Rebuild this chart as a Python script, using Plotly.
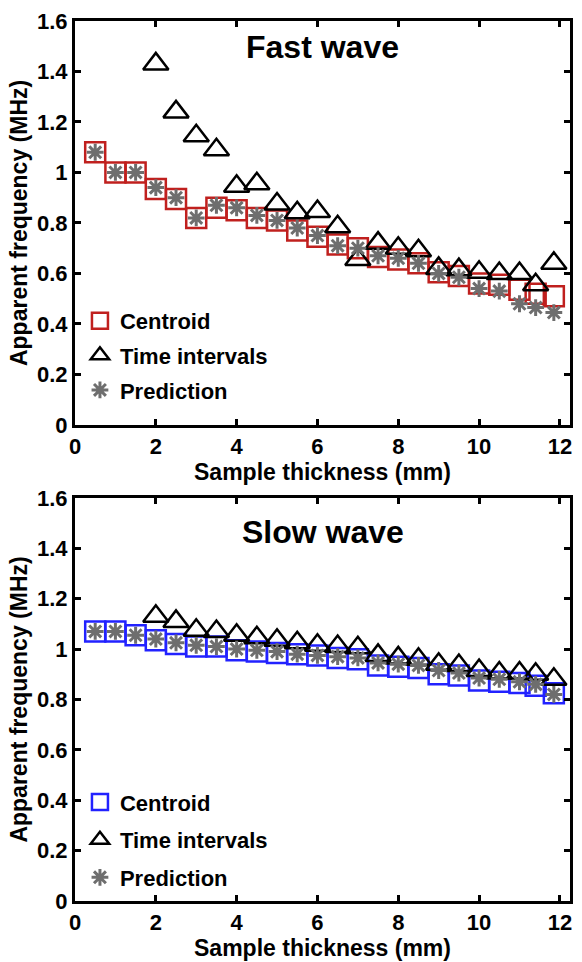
import plotly.graph_objects as go

# ---------------- data ----------------
thickness = [0.5, 1.0, 1.5, 2.0, 2.5, 3.0, 3.5, 4.0, 4.5, 5.0, 5.5, 6.0, 6.5, 7.0,
             7.5, 8.0, 8.5, 9.0, 9.5, 10.0, 10.5, 11.0, 11.4, 11.85]
thickness_ti = thickness[3:]

fast_centroid = [1.08, 1.0, 1.0, 0.935, 0.895, 0.82, 0.86, 0.85, 0.82, 0.81, 0.77, 0.745,
                 0.715, 0.70, 0.665, 0.655, 0.64, 0.605, 0.59, 0.56, 0.555, 0.535, 0.52, 0.51]
fast_time = [1.43, 1.24, 1.145, 1.09, 0.945, 0.955, 0.875, 0.84, 0.845, 0.785, 0.655,
             0.72, 0.70, 0.69, 0.62, 0.615, 0.605, 0.60, 0.60, 0.555, 0.64]
fast_pred = [1.08, 1.0, 1.0, 0.94, 0.90, 0.82, 0.87, 0.86, 0.83, 0.81, 0.78, 0.75,
             0.71, 0.70, 0.67, 0.66, 0.64, 0.60, 0.585, 0.54, 0.53, 0.48, 0.465, 0.445]

slow_centroid = [1.07, 1.07, 1.055, 1.035, 1.02, 1.01, 1.01, 0.995, 0.99, 0.985, 0.98, 0.975,
                 0.965, 0.96, 0.935, 0.93, 0.925, 0.90, 0.895, 0.875, 0.87, 0.865, 0.855, 0.825]
slow_time = [1.13, 1.11, 1.075, 1.07, 1.055, 1.045, 1.035, 1.025, 1.015, 1.01, 1.005,
             0.975, 0.965, 0.96, 0.94, 0.935, 0.915, 0.905, 0.905, 0.90, 0.88]
slow_pred = [1.07, 1.07, 1.055, 1.04, 1.025, 1.015, 1.01, 1.0, 0.995, 0.99, 0.98, 0.975,
             0.97, 0.965, 0.945, 0.94, 0.935, 0.915, 0.905, 0.885, 0.88, 0.87, 0.86, 0.82]

x_ticks = [0, 2, 4, 6, 8, 10, 12]
y_ticks = [0, 0.2, 0.4, 0.6, 0.8, 1.0, 1.2, 1.4, 1.6]
y_ticktext = ["0", "0.2", "0.4", "0.6", "0.8", "1", "1.2", "1.4", "1.6"]

legend_names = ["Centroid", "Time intervals", "Prediction"]
titles = ["Fast wave", "Slow wave"]
x_title = "Sample thickness (mm)"
y_title = "Apparent frequency (MHz)"

# ---------------- style ----------------
FONT = "Liberation Sans"
RED = "#c0201e"
BLUE = "#2222ff"
GREY = "#6e6e6e"

fig = go.Figure()

panels = [
    (fast_centroid, fast_time, fast_pred, RED, "x", "y", "legend"),
    (slow_centroid, slow_time, slow_pred, BLUE, "x2", "y2", "legend2"),
]
for cen, ti, pr, col, xa, ya, lg in panels:
    fig.add_trace(go.Scatter(
        x=thickness, y=cen, mode="markers", name=legend_names[0],
        marker=dict(symbol="square-open", size=20, color=col, line=dict(width=2.5, color=col)),
        xaxis=xa, yaxis=ya, legend=lg, legendgroup=lg + "a"))
    fig.add_trace(go.Scatter(
        x=thickness_ti, y=ti, mode="markers", name=legend_names[1],
        marker=dict(symbol="triangle-up-open", size=22, color="black", line=dict(width=2.5, color="black")),
        xaxis=xa, yaxis=ya, legend=lg, legendgroup=lg + "b"))
    fig.add_trace(go.Scatter(
        x=thickness, y=pr, mode="markers", name=legend_names[2],
        marker=dict(symbol="asterisk-open", size=14, color=GREY, line=dict(width=3, color=GREY)),
        xaxis=xa, yaxis=ya, legend=lg, legendgroup=lg + "c"))

axis_common = dict(
    showline=True, linewidth=3, linecolor="black", mirror="ticks",
    ticks="inside", ticklen=6, tickwidth=2.5, tickcolor="black",
    showgrid=False, zeroline=False,
    tickfont=dict(family=FONT, size=22, color="black", weight="bold"),
)
xcommon = dict(axis_common, range=[0, 12.25], tickvals=x_ticks,
               title=dict(text=x_title, font=dict(family=FONT, size=23, color="black", weight="bold"), standoff=1))
ycommon = dict(axis_common, range=[0, 1.6], tickvals=y_ticks, ticktext=y_ticktext,
               title=dict(text=y_title, font=dict(family=FONT, size=23, color="black", weight="bold"), standoff=3))

legend_common = dict(
    font=dict(family=FONT, size=22, color="black", weight="bold"),
    bgcolor="rgba(0,0,0,0)", borderwidth=0, xanchor="left", yanchor="top",
    itemwidth=30,
)

fig.update_layout(
    width=582, height=962,
    margin=dict(l=75, r=9, t=14, b=55),
    paper_bgcolor="white", plot_bgcolor="white",
    showlegend=True,
    xaxis=dict(xcommon, domain=[0, 1], anchor="y"),
    yaxis=dict(ycommon, domain=[0.541, 1.0], anchor="x"),
    xaxis2=dict(xcommon, domain=[0, 1], anchor="y2"),
    yaxis2=dict(ycommon, domain=[0.0, 0.458], anchor="x2"),
    legend=dict(legend_common, x=0.01, y=0.683, tracegroupgap=3),
    legend2=dict(legend_common, x=0.01, y=0.136, tracegroupgap=6),
    annotations=[
        dict(text=titles[0], xref="x domain", yref="y domain", x=0.5, y=0.935,
             xanchor="center", yanchor="middle", showarrow=False,
             font=dict(family=FONT, size=32, color="black", weight="bold")),
        dict(text=titles[1], xref="x2 domain", yref="y2 domain", x=0.5, y=0.915,
             xanchor="center", yanchor="middle", showarrow=False,
             font=dict(family=FONT, size=32, color="black", weight="bold")),
    ],
)

fig.write_html("out.html")
